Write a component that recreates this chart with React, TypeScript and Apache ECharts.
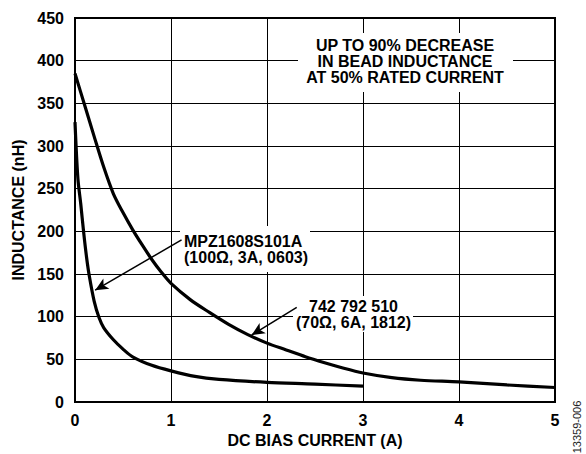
import React, { useEffect, useRef } from "react";
import * as echarts from "echarts";

const xTicks = [0, 1, 2, 3, 4, 5];
const yTicks = [0, 50, 100, 150, 200, 250, 300, 350, 400, 450];

const curr742 = [0, 0.1, 0.2, 0.3, 0.4, 0.5, 0.6, 0.7, 0.8, 0.9, 1.0, 1.2, 1.4, 1.6, 1.8, 2.0, 2.2, 2.4, 2.6, 2.8, 3.0, 3.3, 3.6, 4.0, 4.5, 5.0];
const ind742 = [385, 348, 311, 275, 244, 222, 202, 184, 167, 152, 139, 120, 105, 91, 79, 69, 61, 53, 46, 39.5, 34, 28.5, 25.5, 23.5, 20, 17];

const currMpz = [0, 0.03, 0.06, 0.09, 0.12, 0.15, 0.2, 0.25, 0.3, 0.4, 0.5, 0.6, 0.8, 1.0, 1.25, 1.5, 2.0, 2.5, 3.0];
const indMpz = [328, 262, 232, 199, 170, 147, 118, 99, 87, 73, 62, 53, 43, 36.5, 30, 26.5, 23, 21, 18.5];

const label742 = "742 792 510\n(70Ω, 6A, 1812)";
const labelMpz = "MPZ1608S101A\n(100Ω, 3A, 0603)";
const noteText = "UP TO 90% DECREASE\nIN BEAD INDUCTANCE\nAT 50% RATED CURRENT";
const figId = "13359-006";

// arrow endpoints in data units [current, inductance]
const arrowMpz = [[1.11, 190], [0.21, 131]];
const arrow742 = [[2.31, 111], [1.84, 78.5]];

const FONT = "'Liberation Sans', Arial, Helvetica, sans-serif";

export default function App() {
  const ref = useRef<HTMLDivElement>(null);
  useEffect(() => {
    if (!ref.current) return;
    const chart = echarts.init(ref.current, null, { renderer: "svg" });
    const pair = (xs: number[], ys: number[]) => xs.map((x, i) => [x, ys[i]]);
    const arrowLine = (a: number[][]) => [
      { coord: a[0], symbol: "none" },
      { coord: a[1], symbol: "arrow" },
    ];
    const markLine = (a: number[][]) => ({
      silent: true,
      symbolSize: [9, 13],
      label: { show: false },
      lineStyle: { color: "#000", width: 1.5, type: "solid" },
      emphasis: { disabled: true },
      data: [arrowLine(a)],
    });
    chart.setOption({
      animation: false,
      grid: {
        left: 75,
        right: 31,
        top: 18,
        bottom: 52,
        show: true,
        borderColor: "#000",
        borderWidth: 2,
        backgroundColor: "transparent",
      },
      xAxis: {
        type: "value",
        min: 0,
        max: 5,
        interval: 1,
        name: "DC BIAS CURRENT (A)",
        nameLocation: "middle",
        nameGap: 29,
        nameTextStyle: { fontFamily: FONT, fontWeight: "bold", fontSize: 16, color: "#000" },
        axisLine: { show: true, lineStyle: { color: "#000", width: 2 } },
        axisTick: { show: false },
        axisLabel: {
          fontFamily: FONT,
          fontWeight: "bold",
          fontSize: 16,
          color: "#000",
          margin: 10,
          formatter: (v: number) => (xTicks.includes(v) ? String(v) : ""),
        },
        splitLine: { show: true, lineStyle: { color: "#000", width: 1 } },
      },
      yAxis: {
        type: "value",
        min: 0,
        max: 450,
        interval: 50,
        name: "INDUCTANCE (nH)",
        nameLocation: "middle",
        nameGap: 48,
        nameTextStyle: { fontFamily: FONT, fontWeight: "bold", fontSize: 16, color: "#000" },
        axisLine: { show: true, lineStyle: { color: "#000", width: 2 } },
        axisTick: { show: false },
        axisLabel: {
          fontFamily: FONT,
          fontWeight: "bold",
          fontSize: 16,
          color: "#000",
          margin: 11,
          formatter: (v: number) => (yTicks.includes(v) ? String(v) : ""),
        },
        splitLine: { show: true, lineStyle: { color: "#000", width: 1 } },
      },
      series: [
        {
          name: "742 792 510",
          type: "line",
          data: pair(curr742, ind742),
          showSymbol: false,
          smooth: 0.3,
          lineStyle: { color: "#000", width: 3.2 },
          z: 3,
          markLine: markLine(arrow742),
        },
        {
          name: "MPZ1608S101A",
          type: "line",
          data: pair(currMpz, indMpz),
          showSymbol: false,
          smooth: 0.3,
          lineStyle: { color: "#000", width: 3.2 },
          z: 3,
          markLine: markLine(arrowMpz),
        },
      ],
      graphic: [
        { type: "rect", z: 1, shape: { x: 298, y: 33, width: 215, height: 59 }, style: { fill: "#fff" } },
        {
          type: "text",
          z: 2,
          x: 405,
          y: 61,
          style: {
            text: noteText,
            align: "center",
            verticalAlign: "middle",
            font: `bold 16px ${FONT}`,
            lineHeight: 16,
            fill: "#000",
          },
        },
        { type: "rect", z: 1, shape: { x: 180, y: 226, width: 130, height: 46 }, style: { fill: "#fff" } },
        {
          type: "text",
          z: 2,
          x: 184,
          y: 249,
          style: {
            text: labelMpz,
            align: "left",
            verticalAlign: "middle",
            font: `bold 16px ${FONT}`,
            lineHeight: 16,
            fill: "#000",
          },
        },
        { type: "rect", z: 1, shape: { x: 293, y: 296, width: 120, height: 36 }, style: { fill: "#fff" } },
        {
          type: "text",
          z: 2,
          x: 353.5,
          y: 314,
          style: {
            text: label742,
            align: "center",
            verticalAlign: "middle",
            font: `bold 16px ${FONT}`,
            lineHeight: 16,
            fill: "#000",
          },
        },
        {
          type: "text",
          z: 2,
          x: 577,
          y: 427,
          rotation: Math.PI / 2,
          style: {
            text: figId,
            align: "center",
            verticalAlign: "middle",
            font: `11px ${FONT}`,
            fill: "#222",
          },
        },
      ],
    });
    return () => chart.dispose();
  }, []);
  return <div ref={ref} style={{ width: 586, height: 454, position: "absolute", left: 0, top: 0, background: "#fff" }} />;
}
